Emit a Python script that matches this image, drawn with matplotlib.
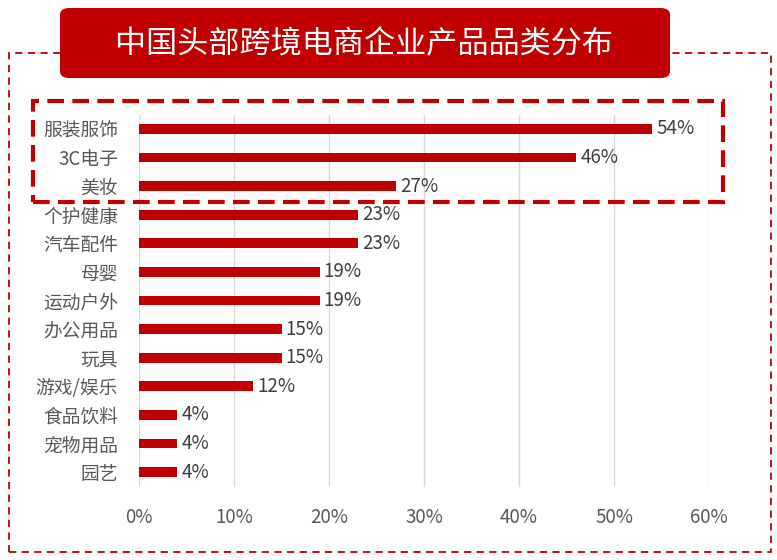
import matplotlib
matplotlib.use('Agg')
import matplotlib.pyplot as plt
from matplotlib.patches import FancyBboxPatch, Rectangle

plt.rcParams['font.family'] = ['Noto Sans CJK SC', 'DejaVu Sans']

categories = ['服装服饰', '3C电子', '美妆', '个护健康', '汽车配件', '母婴', '运动户外',
              '办公用品', '玩具', '游戏/娱乐', '食品饮料', '宠物用品', '园艺']
values = [54, 46, 27, 23, 23, 19, 19, 15, 15, 12, 4, 4, 4]
xticks = [0, 10, 20, 30, 40, 50, 60]
title = '中国头部跨境电商企业产品品类分布'

red = '#C00000'
W, H = 777, 560

fig = plt.figure(figsize=(W / 100, H / 100), dpi=100)


def fx(px):
    return px / W


def fy(py):
    return 1 - py / H


# outer dashed frame
fig.patches.append(Rectangle((fx(9), fy(552)), fx(771) - fx(9), fy(53) - fy(552),
                             transform=fig.transFigure, fill=False, edgecolor=red,
                             linewidth=1.3, linestyle=(0, (4, 3))))

# title box
fig.patches.append(FancyBboxPatch((fx(60), fy(78)), fx(670) - fx(60), fy(8) - fy(78),
                                  boxstyle='round,pad=0,rounding_size=0.012',
                                  transform=fig.transFigure, facecolor=red,
                                  edgecolor='none', zorder=2))
fig.text(fx(364), fy(45), title, color='white', fontsize=22.4,
         ha='center', va='center', zorder=3)

ax = fig.add_axes([fx(139), fy(486.5), fx(709) - fx(139), fy(114.5) - fy(486.5)])
y = range(len(categories))
ax.barh(y, values, height=0.34, color=red, zorder=2)
for yi, v in zip(y, values):
    ax.text(v + 0.45, yi, f'{v}%', va='center', ha='left', fontsize=13.5, color='#404040')

ax.set_xlim(0, 60)
ax.set_ylim(len(categories) - 0.5, -0.5)
ax.set_yticks(list(y))
ax.set_yticklabels(categories, fontsize=13.5, color='#595959')
ax.set_xticks(xticks)
ax.set_xticklabels([f'{t}%' for t in xticks], fontsize=13.5, color='#595959')
ax.tick_params(axis='both', length=0)
ax.tick_params(axis='x', pad=15)
ax.tick_params(axis='y', pad=15)
ax.grid(axis='x', color='#D9D9D9', linewidth=1, zorder=0)
for s in ax.spines.values():
    s.set_visible(False)

# highlight frame around top three
fig.patches.append(Rectangle((fx(33), fy(202)), fx(723) - fx(33), fy(101) - fy(202),
                             transform=fig.transFigure, fill=False, edgecolor=red,
                             linewidth=3, linestyle=(0, (4, 2)), zorder=5))

fig.savefig('out.png', dpi=100)
